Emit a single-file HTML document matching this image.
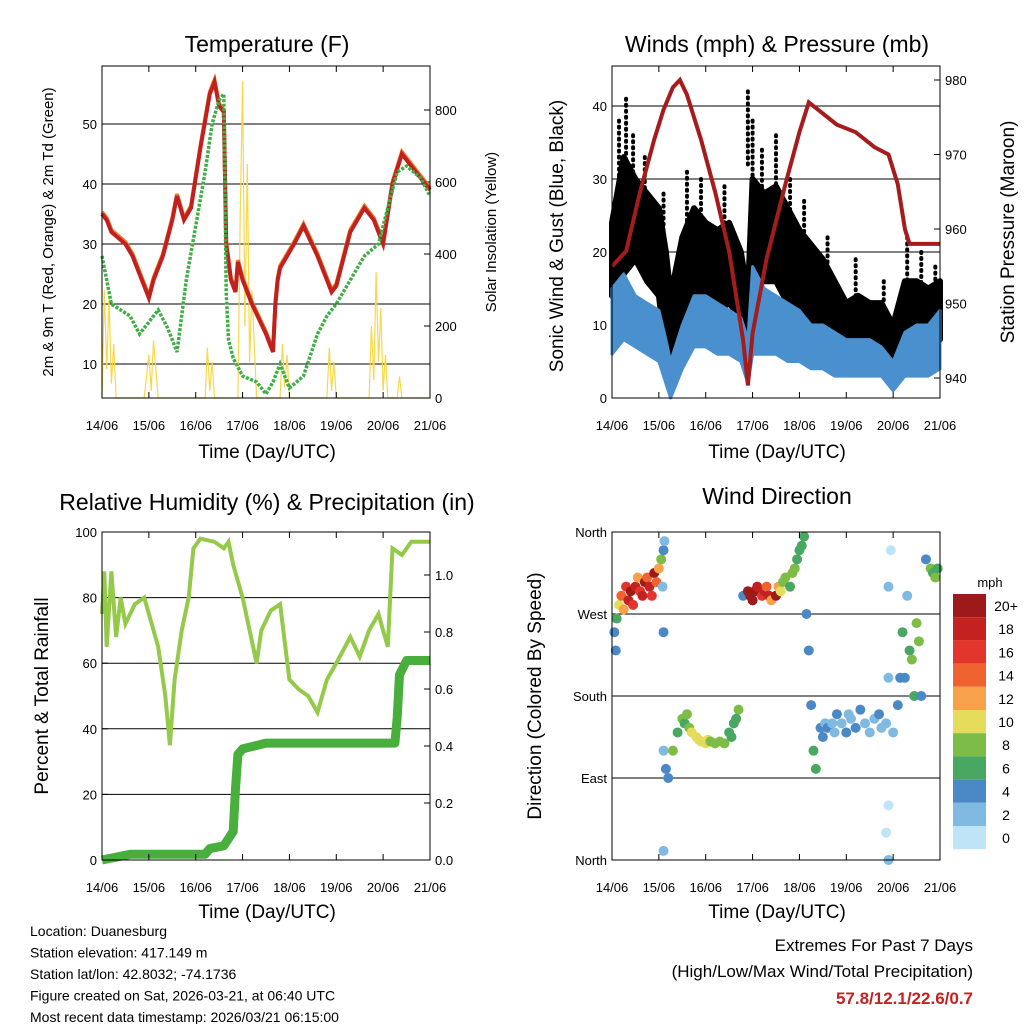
<!DOCTYPE html>
<html><head><meta charset="utf-8"><style>
body{margin:0;background:#fff;}
svg{display:block;font-family:"Liberation Sans",sans-serif;}
</style></head><body>
<svg id="c" width="1024" height="1024" viewBox="0 0 1024 1024">
<rect width="1024" height="1024" fill="#fff"/>
</svg>
<script>
// ---- data ----
const dayLabels=["14/06","15/06","16/06","17/06","18/06","19/06","20/06","21/06"];
const tempT=[[0,35],[0.1,34],[0.2,32],[0.35,31],[0.5,30],[0.65,28],[0.8,25],[1.0,21],[1.1,24],[1.3,28],[1.5,34],[1.6,38],[1.75,34],[1.9,36],[2.1,46],[2.3,55],[2.4,57],[2.5,53],[2.6,52],[2.65,30],[2.75,24],[2.85,22],[2.9,27],[3.0,24],[3.2,20],[3.5,15],[3.65,12],[3.7,20],[3.75,24],[3.8,26],[4.1,30],[4.3,33],[4.6,28],[4.9,22],[5.0,23],[5.3,32],[5.6,36],[5.8,34],[6.0,30],[6.2,40],[6.4,45],[6.5,44],[6.7,42],[7,39]];
const tempTd=[[0,28],[0.2,20],[0.4,19],[0.6,18],[0.8,15],[1.0,17],[1.2,19],[1.4,16],[1.6,12],[1.8,24],[2.0,33],[2.2,42],[2.35,50],[2.5,54],[2.6,55],[2.65,22],[2.7,14],[2.8,11],[3.0,8],[3.3,7],[3.5,5],[3.65,7],[3.8,10],[4.0,6],[4.3,8],[4.6,15],[4.8,18],[5.0,20],[5.3,24],[5.6,28],[5.9,30],[6.1,36],[6.3,42],[6.5,43],[6.8,41],[7,38]];
const insol=[[0,0],[0.05,300],[0.1,80],[0.15,280],[0.2,40],[0.25,150],[0.3,0],[0.9,0],[1.0,120],[1.05,20],[1.1,160],[1.2,0],[2.2,0],[2.25,140],[2.3,20],[2.35,100],[2.4,0],[2.9,0],[2.95,500],[3.0,880],[3.05,200],[3.1,650],[3.15,100],[3.2,300],[3.3,0],[3.8,0],[3.85,150],[3.9,30],[3.95,120],[4.0,0],[4.8,0],[4.85,140],[4.9,20],[4.95,100],[5.0,0],[5.7,0],[5.75,200],[5.8,50],[5.85,350],[5.9,100],[5.95,250],[6.0,20],[6.05,120],[6.1,0],[6.3,0],[6.35,60],[6.4,0],[7,0]];
const windTimes=[0,0.25,0.5,0.75,1.0,1.15,1.25,1.5,1.75,2.0,2.25,2.5,2.75,2.9,3.0,3.25,3.5,3.75,4.0,4.25,4.5,4.75,5.0,5.25,5.5,5.75,6.0,6.25,6.5,6.75,7.0];
const gustHi=[24,33,30,28,26,20,14,22,26,24,23,24,20,14,30,28,29,26,23,21,19,16,13,14,13,13,10,16,16,15,16];
const gustLo=[14,17,19,16,14,6,5,11,14,14,12,13,11,7,16,16,16,13,11,10,9,8,7,7,7,7,5,7,7,7,8];
const gustPeaks=[[0.15,38],[0.3,41],[0.45,36],[0.7,33],[1.1,28],[1.6,31],[1.9,30],[2.4,29],[2.9,42],[3.0,38],[3.2,34],[3.5,36],[3.8,30],[4.1,27],[4.6,22],[5.2,19],[5.8,16],[6.3,22],[6.6,20],[6.9,18]];
const windHi=[15,17,14,13,12,8,5,10,14,14,13,12,11,8,18,15,14,13,12,10,10,9,8,8,8,7,5,9,10,10,12];
const windLo=[6,8,7,6,5,2,0,4,7,7,6,6,5,2,6,6,6,5,5,4,4,3,3,3,3,3,1,3,3,3,4];
const pressure=[[0,955],[0.3,957],[0.6,965],[0.9,972],[1.1,976],[1.3,979],[1.45,980],[1.6,978],[1.9,972],[2.2,965],[2.5,957],[2.8,945],[2.9,939],[3.0,946],[3.3,956],[3.7,966],[4.0,973],[4.2,977],[4.4,976],[4.8,974],[5.2,973],[5.6,971],[5.9,970],[6.1,966],[6.25,960],[6.35,958],[6.6,958],[7,958]];
const rh=[[0,75],[0.05,88],[0.1,65],[0.2,88],[0.3,68],[0.4,80],[0.5,72],[0.7,78],[0.9,80],[1.0,75],[1.2,65],[1.35,50],[1.45,35],[1.55,55],[1.7,70],[1.85,80],[1.95,95],[2.1,98],[2.4,97],[2.6,95],[2.7,97],[2.8,90],[3.0,80],[3.3,60],[3.4,70],[3.6,76],[3.8,78],[4.0,55],[4.2,52],[4.4,50],[4.6,45],[4.8,55],[5.0,60],[5.3,68],[5.5,62],[5.7,70],[5.9,75],[6.0,70],[6.1,65],[6.2,95],[6.4,93],[6.6,97],[7,97]];
const precip=[[0,0],[0.6,0.02],[1.5,0.02],[2.2,0.02],[2.3,0.04],[2.6,0.05],[2.8,0.1],[2.85,0.25],[2.9,0.37],[3.0,0.39],[3.5,0.41],[6.0,0.41],[6.25,0.41],[6.3,0.5],[6.35,0.65],[6.5,0.7],[7,0.7]];
const windDir=[[0.05,250,4],[0.08,230,4],[0.1,265,6],[0.15,280,10],[0.2,290,14],[0.25,275,12],[0.3,300,16],[0.35,285,18],[0.4,295,20],[0.45,280,16],[0.5,300,18],[0.55,310,12],[0.6,295,16],[0.65,290,18],[0.7,305,20],[0.75,310,14],[0.8,300,18],[0.85,290,16],[0.9,315,20],[0.95,305,14],[1.0,320,12],[1.05,330,8],[1.1,340,4],[1.08,300,3],[1.1,250,4],[1.12,350,2],[1.1,120,3],[1.15,100,4],[1.1,10,2],[1.2,90,4],[1.3,120,8],[1.4,140,6],[1.5,155,8],[1.55,150,7],[1.6,160,8],[1.65,145,9],[1.7,140,10],[1.8,135,10],[1.85,132,11],[1.9,130,11],[2.0,128,10],[2.05,132,10],[2.1,130,9],[2.2,128,8],[2.3,130,8],[2.4,128,9],[2.5,140,7],[2.55,135,7],[2.6,150,6],[2.7,165,8],[2.65,155,7],[2.8,290,4],[2.9,295,20],[2.95,290,22],[3.0,285,22],[3.05,295,20],[3.1,300,18],[3.2,290,16],[3.25,295,18],[3.3,300,14],[3.35,290,18],[3.4,285,12],[3.5,290,20],[3.55,300,12],[3.6,295,10],[3.65,305,9],[3.7,310,8],[3.8,300,6],[3.85,315,8],[3.9,320,8],[3.95,330,7],[4.0,340,6],[4.05,345,7],[4.1,355,6],[4.15,270,4],[4.2,230,4],[4.25,170,4],[4.3,120,6],[4.35,100,6],[4.45,145,4],[4.5,135,4],[4.55,150,3],[4.6,145,4],[4.7,150,3],[4.75,140,3],[4.8,160,4],[4.9,150,3],[5.0,140,4],[5.05,160,3],[5.1,155,3],[5.2,145,4],[5.3,165,5],[5.4,150,3],[5.5,140,3],[5.6,155,3],[5.7,160,4],[5.75,145,3],[5.85,150,2],[5.9,200,2],[5.9,300,2],[5.95,340,1],[5.9,60,1],[5.85,30,1],[5.9,0,2],[6.0,140,3],[6.1,170,4],[6.15,200,5],[6.2,250,6],[6.25,200,4],[6.3,290,3],[6.35,230,7],[6.4,220,8],[6.45,180,6],[6.5,260,8],[6.55,240,8],[6.6,180,4],[6.7,330,4],[6.8,320,8],[6.85,315,7],[6.9,310,8],[6.95,320,6]];
const cbLabels=["20+","18","16","14","12","10","8","6","4","2","0"];
const cbColors=["#9e1a1a","#c42121","#e2352b","#ef6330","#f7a24b","#e6dc5c","#7dbd47","#48a862","#4b88c6","#80b9e2","#c0e4f7"];

// ---- helpers ----
const svg=document.getElementById('c');const NS="http://www.w3.org/2000/svg";
function el(tag,attrs,parent,txt){const e=document.createElementNS(NS,tag);for(const k in attrs)e.setAttribute(k,attrs[k]);if(txt!==undefined)e.textContent=txt;(parent||svg).appendChild(e);return e;}
function lin(d0,d1,r0,r1){return v=>r0+(v-d0)*(r1-r0)/(d1-d0);}
function pathOf(pts,fx,fy){return pts.map((p,i)=>(i?'L':'M')+fx(p[0]).toFixed(1)+','+fy(p[1]).toFixed(1)).join('');}
function colorFor(s){let i=Math.min(10,Math.floor(s/2));return cbColors[10-i];}

function frame(g,x0,y0,x1,y1,xs){
  for(let i=0;i<dayLabels.length;i++){const x=xs(i);
    let t=el('line',{x1:x,x2:x,y1:y1,y2:y1-6,stroke:'#000'},g);
    el('line',{x1:x,x2:x,y1:y0,y2:y0+6,stroke:'#000'},g);
    let l=el('text',{x:x,y:y1+32,'font-size':13,'text-anchor':'middle'},g,dayLabels[i]);}
}
function box(g,x0,y0,x1,y1){let b=el('rect',{x:x0,y:y0,width:x1-x0,height:y1-y0,fill:'none',stroke:'#000','stroke-width':1},g);}
function yTicks(g,vals,fy,x,side,fmt,grid,x0,x1){vals.forEach(v=>{const y=fy(v);
  if(grid){const gl=el('line',{x1:x0,x2:x1,y1:y,y2:y,stroke:'#000','stroke-width':1},g);}
  el('line',{x1:x,x2:x+(side<0?6:-6),y1:y,y2:y,stroke:'#000'},g);
  const t=el('text',{x:x+(side<0?-5:5),y:y+5,'font-size':13,'text-anchor':side<0?'end':'start'},g,fmt(v));});}
function title(g,x,y,s,name){const t=el('text',{x:x,y:y,'font-size':23,'text-anchor':'middle'},g,s);}
function vlabel(g,x,y,s,fs,name){const t=el('text',{x:x,y:y,'font-size':fs,'text-anchor':'middle',transform:`rotate(-90 ${x} ${y})`},g,s);}

// ---- Panel 1: Temperature ----
{const g=el('g',{});
const X0=102,X1=430,Y0=66,Y1=398;const xs=lin(0,7,X0,X1);const ys=lin(0,50,424,124);const ys2=lin(0,800,398,110);
yTicks(g,[10,20,30,40,50],ys,X0,-1,v=>v,true,X0,X1);
yTicks(g,[0,200,400,600,800],ys2,X1,1,v=>v,false);
const ins=el('path',{d:pathOf(insol,xs,ys2),fill:'none',stroke:'#f7d84a','stroke-width':1.2},g);
const to=el('path',{d:pathOf(tempT,xs,v=>ys(v)-2),fill:'none',stroke:'#ef7a2a','stroke-width':4},g);
const tr=el('path',{d:pathOf(tempT,xs,ys),fill:'none',stroke:'#c0211f','stroke-width':4},g);
const td=el('path',{d:pathOf(tempTd,xs,ys),fill:'none',stroke:'#3fae45','stroke-width':3.5,'stroke-dasharray':'3 1.5'},g);
box(g,X0,Y0,X1,Y1);frame(g,X0,Y0,X1,Y1,i=>X0+i*(X1-X0)/7);
title(g,267,52,'Temperature (F)','temperature-title');
const xl=el('text',{x:267,y:458,'font-size':19,'text-anchor':'middle'},g,'Time (Day/UTC)');
vlabel(g,53,232,'2m & 9m T (Red, Orange) & 2m Td (Green)',15,'y-axis-title');
vlabel(g,496,232,'Solar Insolation (Yellow)',15,'y2-axis-title');}

// ---- Panel 2: Winds ----
{const g=el('g',{});
const X0=612,X1=940,Y0=66,Y1=398;const xs=lin(0,7,X0,X1);const ys=lin(0,40,398,106);const ys2=lin(940,980,378,80);
yTicks(g,[0,10,20,30,40],ys,X0,-1,v=>v,true,X0,X1);
yTicks(g,[940,950,960,970,980],ys2,X1,1,v=>v,false);
const gp=windTimes.map((t,i)=>[t,gustHi[i]]).concat(windTimes.map((t,i)=>[t,gustLo[i]]).reverse());
const gb=el('path',{d:pathOf(gp,xs,ys)+'Z',fill:'#000',stroke:'#000','stroke-width':6,'stroke-linejoin':'round'},g);
gustPeaks.forEach(p=>{const d=el('line',{x1:xs(p[0]),x2:xs(p[0]),y1:ys(p[1]),y2:ys(p[1]-10),stroke:'#000','stroke-width':4,'stroke-linecap':'round','stroke-dasharray':'1 5'},g);});
const wp=windTimes.map((t,i)=>[t,windHi[i]]).concat(windTimes.map((t,i)=>[t,windLo[i]]).reverse());
const wb=el('path',{d:pathOf(wp,xs,ys)+'Z',fill:'#4a90cf',stroke:'#4a90cf','stroke-width':3,'stroke-linejoin':'round'},g);
const pl=el('path',{d:pathOf(pressure,xs,ys2),fill:'none',stroke:'#a51c1c','stroke-width':4},g);
box(g,X0,Y0,X1,Y1);frame(g,X0,Y0,X1,Y1,i=>X0+i*(X1-X0)/7);
title(g,777,52,'Winds (mph) & Pressure (mb)','winds-title');
const xl=el('text',{x:777,y:458,'font-size':19,'text-anchor':'middle'},g,'Time (Day/UTC)');
vlabel(g,563,236,'Sonic Wind & Gust (Blue, Black)',19,'y-axis-title');
vlabel(g,1014,232,'Station Pressure (Maroon)',19,'y2-axis-title');}

// ---- Panel 3: RH & precip ----
{const g=el('g',{});
const X0=102,X1=430,Y0=532,Y1=860;const xs=lin(0,7,X0,X1);const ys=lin(0,100,860,532);const ys2=lin(0,1.0,860,575);
yTicks(g,[0,20,40,60,80,100],ys,X0,-1,v=>v,true,X0,X1);
yTicks(g,[0,0.2,0.4,0.6,0.8,1.0],ys2,X1,1,v=>v.toFixed(1),false);
const r=el('path',{d:pathOf(rh,xs,ys),fill:'none',stroke:'#94c94a','stroke-width':4},g);
const p=el('path',{d:pathOf(precip,xs,ys2),fill:'none',stroke:'#48ae3c','stroke-width':9,'stroke-linejoin':'round'},g);
box(g,X0,Y0,X1,Y1);frame(g,X0,Y0,X1,Y1,i=>X0+i*(X1-X0)/7);
title(g,267,510,'Relative Humidity (%) & Precipitation (in)','humidity-title');
const xl=el('text',{x:267,y:918,'font-size':19,'text-anchor':'middle'},g,'Time (Day/UTC)');
vlabel(g,48,696,'Percent & Total Rainfall',19,'y-axis-title');}

// ---- Panel 4: Wind direction ----
{const g=el('g',{});
const X0=612,X1=940,Y0=532,Y1=860;const xs=lin(0,7,X0,X1);const ys=lin(0,360,860,532);
const dirNames=["North","East","South","West","North"];
[0,90,180,270,360].forEach((v,i)=>{const y=ys(v);
 if(v>0&&v<360){const gl=el('line',{x1:X0,x2:X1,y1:y,y2:y,stroke:'#000'},g);}
 const t=el('text',{x:X0-5,y:y+5,'font-size':13,'text-anchor':'end'},g,dirNames[i]);});
windDir.forEach(p=>{const c=el('circle',{cx:xs(p[0]),cy:ys(p[1]),r:5,fill:colorFor(p[2])},g);});
box(g,X0,Y0,X1,Y1);frame(g,X0,Y0,X1,Y1,i=>X0+i*(X1-X0)/7);
title(g,777,504,'Wind Direction','wind-direction-title');
const xl=el('text',{x:777,y:918,'font-size':19,'text-anchor':'middle'},g,'Time (Day/UTC)');
vlabel(g,541,696,'Direction (Colored By Speed)',19,'y-axis-title');
const cb=el('g',{},g);
const u=el('text',{x:990,y:587,'font-size':13,'text-anchor':'middle'},cb,'mph');
cbColors.forEach((c,i)=>{const y=594+i*23.2;const r=el('rect',{x:953,y:y,width:33,height:23.2,fill:c},cb);
 const t=el('text',{x:1006,y:y+17,'font-size':14,'text-anchor':'middle'},cb,cbLabels[i]);});}

// ---- footer ----
{const g=el('g',{});
["Location: Duanesburg","Station elevation: 417.149 m","Station lat/lon: 42.8032; -74.1736","Figure created on Sat, 2026-03-21, at 06:40 UTC","Most recent data timestamp: 2026/03/21 06:15:00"].forEach((s,i)=>{const t=el('text',{x:30,y:936+i*21.5,'font-size':14},g,s);});
const a=el('text',{x:973,y:951,'font-size':17,'text-anchor':'end'},g,'Extremes For Past 7 Days');
const b=el('text',{x:973,y:977,'font-size':17,'text-anchor':'end'},g,'(High/Low/Max Wind/Total Precipitation)');
const c=el('text',{x:973,y:1004,'font-size':17,'font-weight':'bold','text-anchor':'end',fill:'#c42121'},g,'57.8/12.1/22.6/0.7');}
</script>
</body></html>
